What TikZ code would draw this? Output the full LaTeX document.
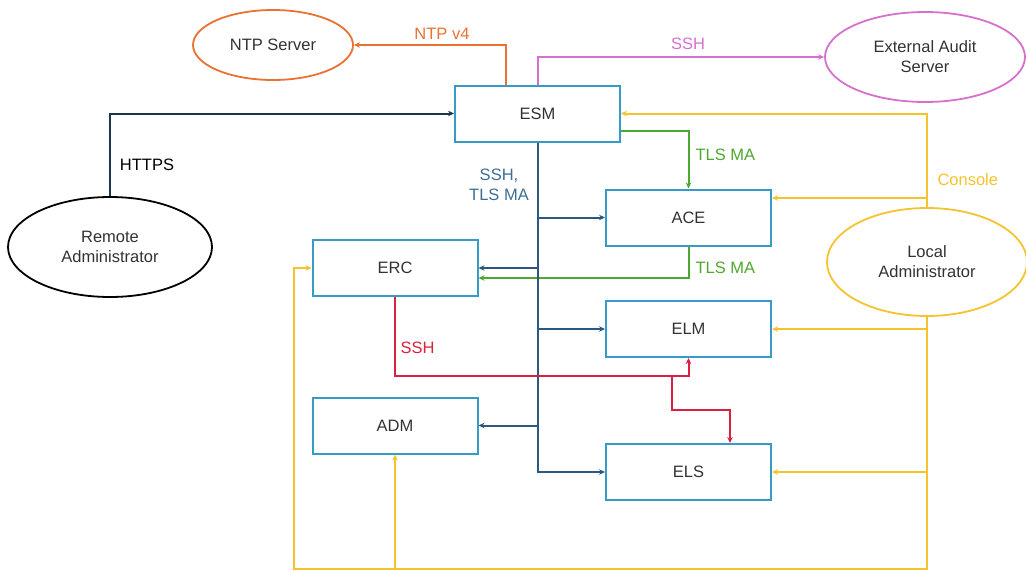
\documentclass[tikz,border=0pt]{standalone}
\usepackage{fontspec}
\setmainfont{Liberation Sans}
\usetikzlibrary{shapes.geometric,arrows.meta,calc}
\definecolor{boxc}{RGB}{55,155,200}
\definecolor{txtc}{RGB}{50,50,50}
\definecolor{ntpc}{RGB}{233,113,50}
\definecolor{pinkc}{RGB}{214,112,206}
\definecolor{busc}{RGB}{44,88,128}
\definecolor{buslab}{RGB}{60,110,150}
\definecolor{greenc}{RGB}{78,167,46}
\definecolor{redc}{RGB}{218,32,62}
\definecolor{yelc}{RGB}{245,195,45}
\tikzset{
  x=1pt,y=-1pt,
  every node/.style={font=\fontsize{16.5}{20}\selectfont, text=txtc},
  compbox/.style={draw=boxc, line width=2pt, minimum width=165pt, minimum height=56pt, inner sep=0pt},
  actor/.style={ellipse, line width=1.8pt, inner sep=0pt, align=center},
  conn/.style={line width=2pt, -{Stealth[length=6pt,width=5.5pt]}},
  lab/.style={font=\fontsize{16.5}{20}\selectfont},
}
\begin{document}
\begin{tikzpicture}
\useasboundingbox (0,0) rectangle (1026,571);
% component boxes
\node[compbox] (ESM) at (537.5,113.5) {ESM};
\node[compbox] (ACE) at (688.5,217.5) {ACE};
\node[compbox] (ERC) at (395,268) {ERC};
\node[compbox] (ELM) at (688.5,329) {ELM};
\node[compbox] (ADM) at (395,425.5) {ADM};
\node[compbox] (ELS) at (688.5,472) {ELS};
% actors
\node[actor, draw=ntpc, minimum width=160pt, minimum height=70pt] (NTP) at (273,45) {NTP Server};
\node[actor, draw=pinkc, minimum width=200pt, minimum height=90pt] (EAS) at (925,57) {External Audit\\Server};
\node[actor, draw=yelc, minimum width=200pt, minimum height=108pt] (LA) at (927,262) {Local\\Administrator};
\node[actor, draw=black, minimum width=204pt, minimum height=100pt] (RA) at (110,247) {Remote\\Administrator};
% helper coordinates
\coordinate (n1) at (506,45);
\coordinate (s1) at (537.5,57);
\coordinate (g1) at (688.5,131);
\coordinate (g2) at (688.5,278);
\coordinate (r1) at (672,376);
\coordinate (r2) at (730,410);
\coordinate (yb) at (927,569);
\coordinate (yl) at (294,569);
% NTP
\draw[conn, draw=ntpc] (ESM.north -| n1) -- (n1) -- (NTP.east);
% SSH to audit
\draw[conn, draw=pinkc] (ESM.north) -- (s1) -- (EAS.west);
% HTTPS
\draw[conn, draw=busc!60!black] (RA.north) -- (RA.north |- ESM.west) -- (ESM.west);
% TLS MA green
\draw[conn, draw=greenc] (g1 -| ESM.east) -- (g1) -- (ACE.north);
\draw[conn, draw=greenc] (ACE.south) -- (g2) -- (g2 -| ERC.east);
% bus
\draw[conn, draw=busc] (ESM.south) -- (ESM.south |- ELS.west) -- (ELS.west);
\draw[conn, draw=busc] (ESM.south |- ACE.west) -- (ACE.west);
\draw[conn, draw=busc] (ESM.south |- ERC.east) -- (ERC.east);
\draw[conn, draw=busc] (ESM.south |- ELM.west) -- (ELM.west);
\draw[conn, draw=busc] (ESM.south |- ADM.east) -- (ADM.east);
% red SSH
\draw[conn, draw=redc] (ERC.south) -- (ERC.south |- r1) -- (ELM.south |- r1) -- (ELM.south);
\draw[conn, draw=redc] (r1) -- (r1 |- r2) -- (r2) -- (r2 |- ELS.north);
% yellow console
\draw[conn, draw=yelc] (LA.north) -- (LA.north |- ESM.east) -- (ESM.east);
\draw[conn, draw=yelc] (LA.north |- 0,198) -- (ACE.east |- 0,198);
\draw[conn, draw=yelc] (LA.south) -- (yb) -- (yl) -- (yl |- ERC.west) -- (ERC.west);
\draw[conn, draw=yelc] (ADM.south |- yb) -- (ADM.south);
\draw[conn, draw=yelc] (LA.south |- ELM.east) -- (ELM.east);
\draw[conn, draw=yelc] (LA.south |- ELS.east) -- (ELS.east);
% labels
\node[lab, text=ntpc] (lntp) at (442,34) {NTP v4};
\node[lab, text=pinkc] (lssh) at (688,44) {SSH};
\node[lab, text=black] (lhttps) at (147,165) {HTTPS};
\node[lab, text=buslab, align=center] (lbus) at (499,185) {SSH,\\TLS MA};
\node[lab, text=greenc, anchor=west] (ltls1) at (692,155) {TLS MA};
\node[lab, text=greenc, anchor=west] (ltls2) at (692,268) {TLS MA};
\node[lab, text=yelc, anchor=west] (lcons) at (934,180) {Console};
\node[lab, text=redc, anchor=west] (lred) at (397,348) {SSH};
\end{tikzpicture}
\end{document}
